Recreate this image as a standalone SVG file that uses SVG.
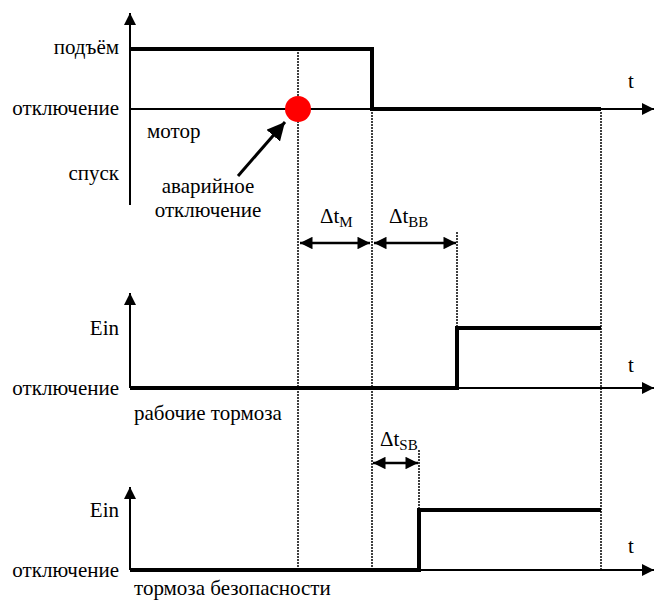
<svg xmlns="http://www.w3.org/2000/svg" width="654" height="601" viewBox="0 0 654 601" font-family="Liberation Serif, DejaVu Serif, serif" font-size="21">
<style>
.r{text-anchor:end}
.ax{stroke:#000;stroke-width:2;fill:none}
.sig{stroke:#000;stroke-width:4;fill:none;stroke-linejoin:miter}
.dot{stroke:#000;stroke-width:1.5;stroke-dasharray:2 1;fill:none}
.dim{stroke:#000;stroke-width:2.5;fill:none}
</style>
<defs>
<marker id="ah" viewBox="0 0 10 10" refX="10" refY="5" markerWidth="6" markerHeight="6" orient="auto" markerUnits="strokeWidth"><path d="M0,0 L10,5 L0,10 z" fill="#000"/></marker>
<marker id="dh" viewBox="0 0 10 10" refX="10" refY="5" markerWidth="5.5" markerHeight="5" orient="auto-start-reverse" markerUnits="strokeWidth"><path d="M0,0 L10,5 L0,10 z" fill="#000"/></marker>
</defs>
<g id="guides">
<line class="dot" x1="298" y1="52" x2="298" y2="570"/>
<line class="dot" x1="372" y1="112" x2="372" y2="570"/>
<line class="dot" x1="457" y1="232" x2="457" y2="328"/>
<line class="dot" x1="419" y1="450" x2="419" y2="510"/>
<line class="dot" x1="601" y1="112" x2="601" y2="570"/>
</g>
<g id="chart-motor">
<line class="ax" x1="130" y1="205" x2="130" y2="13" marker-end="url(#ah)"/>
<line class="ax" x1="130" y1="109" x2="654" y2="109" marker-end="url(#ah)"/>
<polyline class="sig" points="130,49 372,49 372,109 601,109"/>
<circle cx="298" cy="109" r="13" fill="#f00"/>
<text class="r" x="119" y="54">подъём</text>
<text class="r" x="119" y="115">отключение</text>
<text x="147" y="138">мотор</text>
<text class="r" x="119" y="180">спуск</text>
<text x="628" y="88">t</text>
</g>
<g id="emergency-label">
<line x1="238" y1="176" x2="285" y2="122" stroke="#000" stroke-width="3" marker-end="url(#ah)"/>
<text x="208" y="193" text-anchor="middle">аварийное</text>
<text x="208" y="217" text-anchor="middle">отключение</text>
</g>
<g id="chart-work-brakes">
<line class="ax" x1="130" y1="388" x2="130" y2="293" marker-end="url(#ah)"/>
<line class="ax" x1="130" y1="388" x2="654" y2="388" marker-end="url(#ah)"/>
<polyline class="sig" points="130,388 457,388 457,328 601,328"/>
<text class="r" x="119" y="335">Ein</text>
<text class="r" x="119" y="395">отключение</text>
<text x="134" y="420">рабочие тормоза</text>
<text x="628" y="372">t</text>
</g>
<g id="chart-safety-brakes">
<line class="ax" x1="130" y1="570" x2="130" y2="487" marker-end="url(#ah)"/>
<line class="ax" x1="130" y1="570" x2="654" y2="570" marker-end="url(#ah)"/>
<polyline class="sig" points="130,570 419,570 419,510 601,510"/>
<text class="r" x="119" y="517">Ein</text>
<text class="r" x="119" y="577">отключение</text>
<text x="134" y="595">тормоза безопасности</text>
<text x="628" y="553">t</text>
</g>
<g id="connectors">
<line class="dim" x1="300" y1="243" x2="370" y2="243" marker-start="url(#dh)" marker-end="url(#dh)"/>
<line class="dim" x1="374" y1="243" x2="456" y2="243" marker-start="url(#dh)" marker-end="url(#dh)"/>
<line class="dim" x1="373" y1="463" x2="418" y2="463" marker-start="url(#dh)" marker-end="url(#dh)"/>
<text x="320" y="223">Δt<tspan font-size="15" dy="4">M</tspan></text>
<text x="389" y="223">Δt<tspan font-size="15" dy="4">BB</tspan></text>
<text x="380" y="446">Δt<tspan font-size="15" dy="4">SB</tspan></text>
</g>
</svg>
